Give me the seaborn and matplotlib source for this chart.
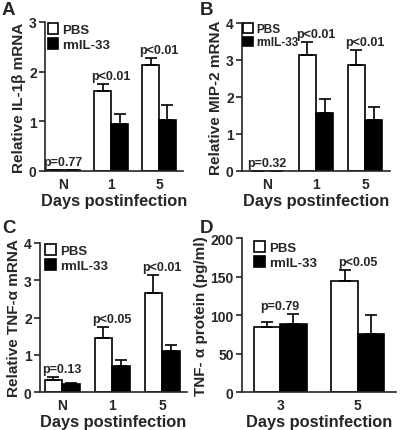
import seaborn as sns
import matplotlib.pyplot as plt
import pandas as pd
import numpy as np
from matplotlib.patches import Patch

# data
days_abc = ['N', '1', '5']
days_d = ['3', '5']
groups = ['PBS', 'rmIL-33']

il1b_pbs = [0.01, 1.60, 2.13]
il1b_pbs_err = [0, 0.15, 0.15]
il1b_rm = [0.01, 0.95, 1.02]
il1b_rm_err = [0, 0.20, 0.30]
il1b_p = ['p=0.77', 'p<0.01', 'p<0.01']

mip2_pbs = [0.01, 3.12, 2.87]
mip2_pbs_err = [0, 0.37, 0.40]
mip2_rm = [0.01, 1.57, 1.37]
mip2_rm_err = [0, 0.38, 0.35]
mip2_p = ['p=0.32', 'p<0.01', 'p<0.01']

tnf_pbs = [0.33, 1.45, 2.67]
tnf_pbs_err = [0.07, 0.30, 0.48]
tnf_rm = [0.22, 0.70, 1.10]
tnf_rm_err = [0.03, 0.17, 0.17]
tnf_p = ['p=0.13', 'p<0.05', 'p<0.01']

prot_pbs = [84, 145]
prot_pbs_err = [7, 14]
prot_rm = [88, 75]
prot_rm_err = [13, 25]
prot_p = ['p=0.79', 'p<0.05']

sns.set_style('ticks')
plt.rcParams['font.family'] = ['Liberation Sans', 'DejaVu Sans']
plt.rcParams['font.weight'] = 'bold'
plt.rcParams['axes.labelweight'] = 'bold'


def plot_panel(ax, days, pbs, pbs_err, rm, rm_err, pvals, ylabel, yticks, xlim, width,
               legend_loc, legend_size=9.5):
    df = pd.DataFrame({
        'day': days * 2,
        'group': [groups[0]] * len(days) + [groups[1]] * len(days),
        'value': list(pbs) + list(rm),
    })
    sns.barplot(data=df, x='day', y='value', hue='group', order=days, hue_order=groups,
                palette={'PBS': 'white', 'rmIL-33': 'black'}, edgecolor='black',
                linewidth=1.2, width=width, errorbar=None, legend=False, ax=ax)
    tops = np.zeros(len(days))
    for cont, errs in zip(ax.containers, [pbs_err, rm_err]):
        xs = [b.get_x() + b.get_width() / 2 for b in cont]
        hs = [b.get_height() for b in cont]
        e = np.array(errs, dtype=float)
        ax.errorbar(xs, hs, yerr=[np.zeros_like(e), e], fmt='none', ecolor='black',
                    elinewidth=1.2, capsize=4, capthick=1.2)
        tops = np.maximum(tops, np.array(hs) + e)
    for i, p in enumerate(pvals):
        ax.annotate(p, (i, tops[i]), xytext=(0, 1.5), textcoords='offset points',
                    ha='center', va='bottom', fontsize=9, fontweight='bold')
    ax.set_ylim(yticks[0], yticks[-1])
    ax.set_yticks(yticks)
    ax.set_xlim(*xlim)
    ax.set_xlabel('Days postinfection', fontsize=11.8, fontweight='bold', labelpad=2)
    ax.set_ylabel(ylabel, fontsize=11, fontweight='bold', labelpad=2)
    ax.tick_params(axis='y', labelsize=10, length=4, width=1.2, pad=2)
    ax.tick_params(axis='x', labelsize=10, length=0, pad=4)
    for lab in ax.get_xticklabels() + ax.get_yticklabels():
        lab.set_fontweight('bold')
    sns.despine(ax=ax)
    for s in ['left', 'bottom']:
        ax.spines[s].set_linewidth(1.2)
    handles = [Patch(facecolor='white', edgecolor='black', linewidth=1.2),
               Patch(facecolor='black', edgecolor='black', linewidth=1.2)]
    ax.legend(handles, groups, loc='upper left', bbox_to_anchor=legend_loc, frameon=False,
              handlelength=0.8, handleheight=0.9, handletextpad=0.3,
              labelspacing=0.15, borderaxespad=0, borderpad=0,
              prop={'weight': 'bold', 'size': legend_size})


fig = plt.figure(figsize=(4, 4.31), dpi=100)
ax_a = fig.add_axes([0.1125, 0.601, 0.345, 0.346])
ax_b = fig.add_axes([0.605, 0.601, 0.37, 0.344])
ax_c = fig.add_axes([0.10, 0.088, 0.3675, 0.346])
ax_d = fig.add_axes([0.605, 0.088, 0.385, 0.357])

plot_panel(ax_a, days_abc, il1b_pbs, il1b_pbs_err, il1b_rm, il1b_rm_err, il1b_p,
           'Relative IL-1β mRNA', [0, 1, 2, 3], (-0.38, 2.5), 0.7, (0.02, 0.99))
plot_panel(ax_b, days_abc, mip2_pbs, mip2_pbs_err, mip2_rm, mip2_rm_err, mip2_p,
           'Relative MIP-2 mRNA', [0, 1, 2, 3, 4], (-0.51, 2.51), 0.7, (0.01, 1.0), 8.5)
plot_panel(ax_c, days_abc, tnf_pbs, tnf_pbs_err, tnf_rm, tnf_rm_err, tnf_p,
           'Relative TNF-α mRNA', [0, 1, 2, 3, 4], (-0.44, 2.5), 0.7, (0.035, 0.99))
plot_panel(ax_d, days_d, prot_pbs, prot_pbs_err, prot_rm, prot_rm_err, prot_p,
           'TNF- α protein (pg/ml)', [0, 50, 100, 150, 200], (-0.49, 1.49), 0.68, (0.08, 0.98))

for letter, x, y in [('A', 0.005, 0.995), ('B', 0.5, 0.995), ('C', 0.005, 0.49), ('D', 0.5, 0.49)]:
    fig.text(x, y, letter, fontsize=13.5, fontweight='bold', va='top', ha='left')

fig.savefig('out.png', dpi=100)
